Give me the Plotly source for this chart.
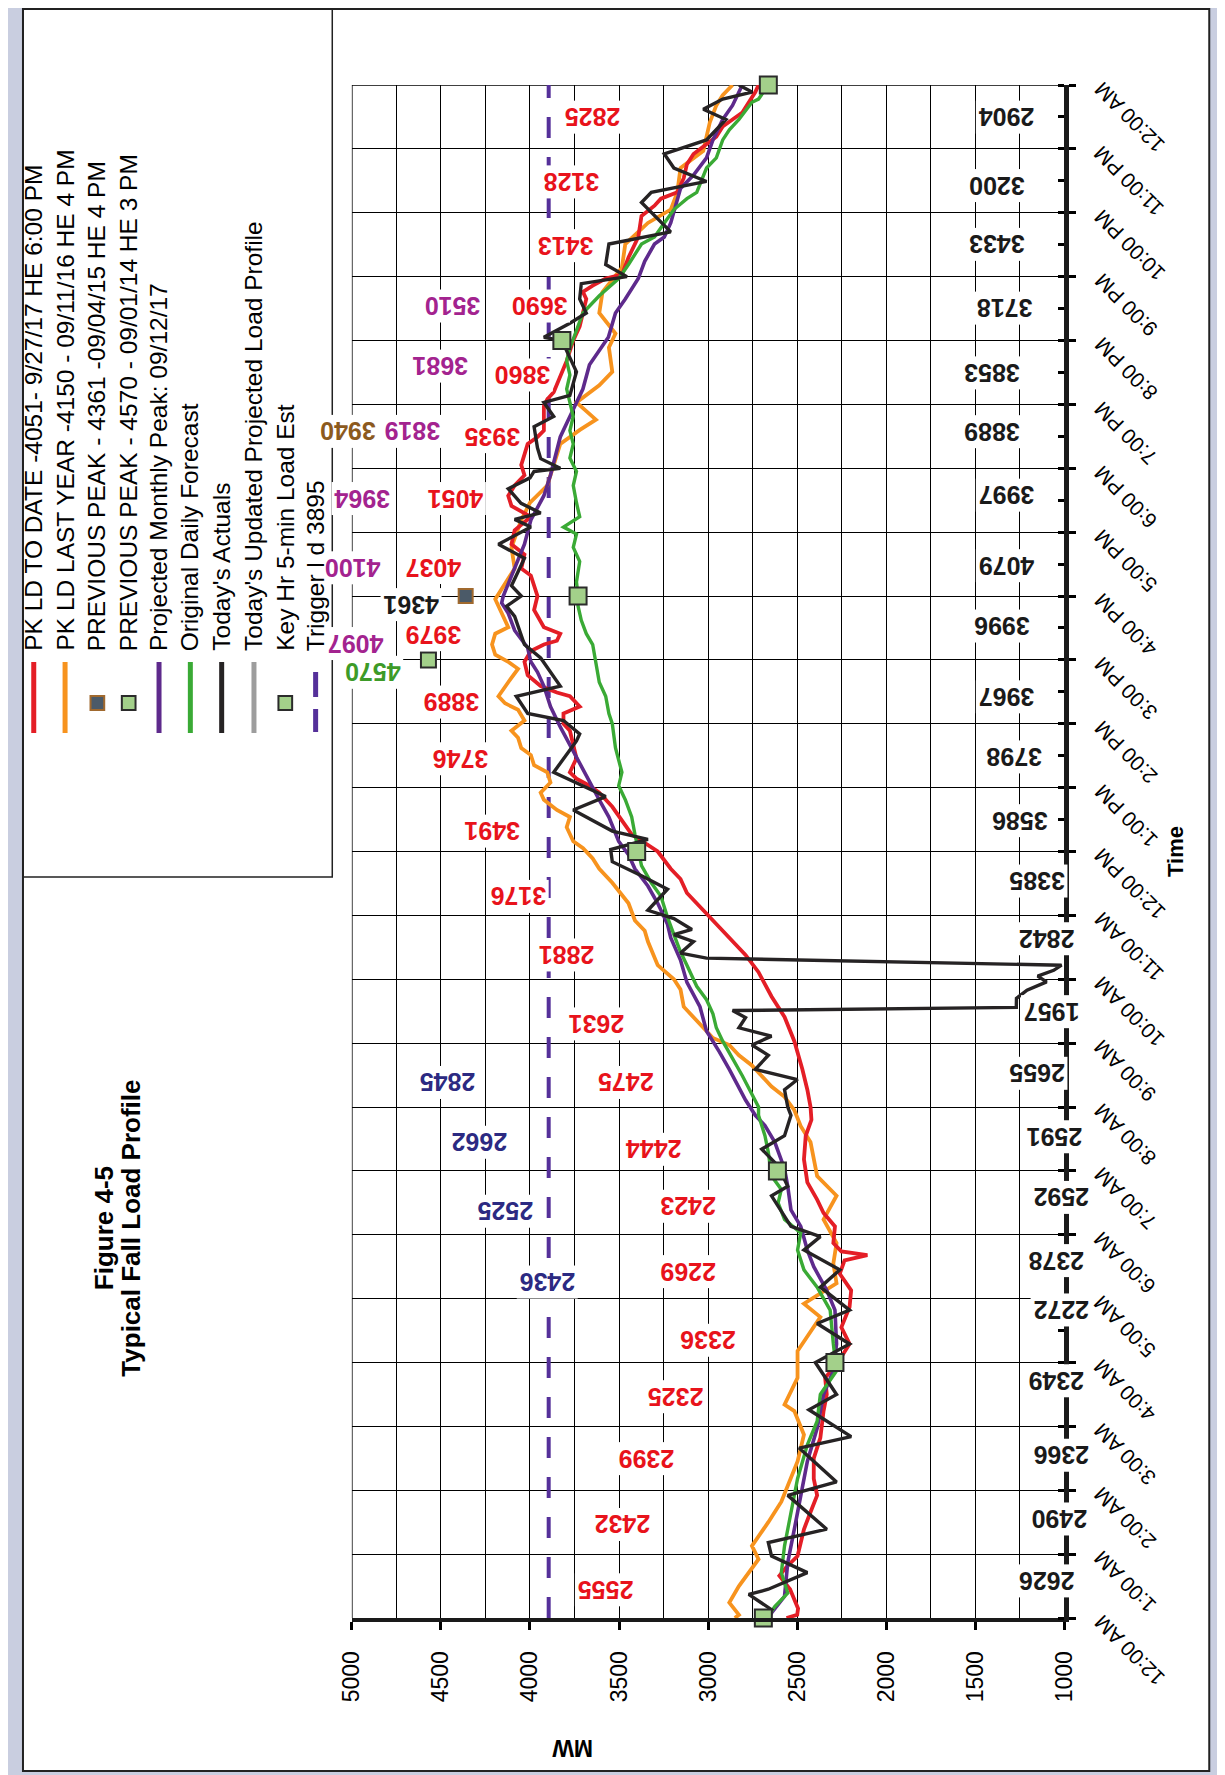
import plotly.graph_objects as go

# ---------------- data ----------------
mw_ticks = [1000, 1500, 2000, 2500, 3000, 3500, 4000, 4500, 5000]
hour_ticks = list(range(25))
time_labels = ["12:00 AM", "1:00 AM", "2:00 AM", "3:00 AM", "4:00 AM", "5:00 AM", "6:00 AM",
               "7:00 AM", "8:00 AM", "9:00 AM", "10:00 AM", "11:00 AM", "12:00 PM", "1:00 PM",
               "2:00 PM", "3:00 PM", "4:00 PM", "5:00 PM", "6:00 PM", "7:00 PM", "8:00 PM",
               "9:00 PM", "10:00 PM", "11:00 PM", "12:00 AM"]

red_h = [0.00, 0.05, 0.15, 0.30, 0.45, 0.66, 0.80, 0.97, 1.20, 1.39, 1.66, 1.92, 2.18, 2.50, 2.82, 3.24, 3.50,
         3.76, 3.97, 4.29, 4.55, 4.87, 5.13, 5.39, 5.60, 5.68, 5.74, 5.87, 6.13, 6.34, 6.55, 6.82, 7.18, 7.55,
         7.80, 8.00, 8.27, 8.59, 9.03, 9.41, 9.73, 10.11, 10.38, 10.59, 10.86, 11.08, 11.35, 11.57, 11.73,
         12.00, 12.27, 12.49, 12.70, 12.92, 13.03, 13.14, 13.24, 13.46, 13.68, 13.89, 14.00, 14.16, 14.27,
         14.43, 14.49, 14.59, 14.76, 14.97, 15.14, 15.24, 15.30, 15.41, 15.51, 15.78, 16.00, 16.32, 16.43,
         16.65, 16.81, 17.03, 17.24, 17.41, 17.57, 17.73, 17.89, 18.05, 18.38, 18.49, 18.59, 18.97, 19.08,
         19.19, 19.68, 20.00, 20.22, 20.43, 20.65, 20.76, 20.86, 20.97, 21.03, 21.30, 21.62, 21.95, 22.11,
         22.22, 22.32, 22.54, 22.76, 22.92, 23.19, 23.35, 23.57, 23.89, 24.00]
red_mw = [2560, 2500, 2495, 2520, 2540, 2600, 2560, 2498, 2480, 2462, 2425, 2388, 2407, 2407, 2370, 2352, 2334,
          2343, 2279, 2206, 2252, 2206, 2197, 2261, 2234, 2106, 2252, 2297, 2288, 2352, 2388, 2443, 2462, 2452,
          2420, 2425, 2443, 2471, 2516, 2571, 2644, 2717, 2790, 2863, 2954, 3027, 3119, 3155, 3210,
          3283, 3429, 3484, 3538, 3611, 3666, 3739, 3776, 3739, 3757, 3776, 3812, 3812, 3721,
          3776, 3849, 3940, 4013, 4031, 3995, 3922, 3849, 3830, 3922, 3977, 3958, 3995, 4049,
          4031, 4104, 4086, 3995, 4104, 4122, 4086, 4031, 4049, 4013, 3958, 3922, 3922, 3903,
          3867, 3794, 3757, 3721, 3703, 3684, 3703, 3648, 3575, 3484, 3447, 3392, 3374, 3301,
          3265, 3173, 3137, 3119, 3082, 2954, 2918, 2808, 2735, 2717]

orange_h = [0.00, 0.05, 0.24, 0.50, 0.92, 1.13, 1.50, 1.82, 2.45, 2.87, 3.24, 3.34, 3.76, 4.18, 4.71, 4.92,
            5.24, 5.55, 5.87, 6.24, 6.61, 6.92, 7.45, 7.70, 7.95, 8.16, 8.32, 8.65, 8.81, 8.97, 9.08, 9.24,
            9.57, 9.84, 10.00, 10.22, 10.59, 10.76, 10.92, 11.19, 11.51, 11.73, 11.89, 12.05, 12.16, 12.38,
            12.54, 12.65, 12.81, 12.92, 13.08, 13.24, 13.35, 13.51, 13.62, 13.78, 13.89, 14.05, 14.22, 14.32,
            14.43, 14.65, 14.86, 14.97, 15.08, 15.24, 15.41, 15.51, 15.73, 15.95, 16.43, 16.76, 17.19, 17.46,
            17.73, 18.38, 18.60, 18.76, 19.03, 19.30, 19.51, 19.89, 20.11, 20.43, 20.76, 21.14, 21.51, 21.84,
            22.05, 22.32, 22.70, 22.97, 23.41, 23.68, 23.84, 24.00]
orange_mw = [2850, 2827, 2881, 2827, 2717, 2754, 2662, 2589, 2498, 2462, 2516, 2571, 2498, 2498, 2370, 2462,
             2279, 2297, 2279, 2352, 2279, 2388, 2425, 2480, 2516, 2571, 2644, 2754, 2827, 2881, 2973, 3027,
             3137, 3155, 3192, 3283, 3338, 3356, 3411, 3447, 3538, 3611, 3648, 3702, 3757, 3794,
             3776, 3849, 3922, 3940, 3885, 3903, 3977, 3995, 4049, 4067, 4104, 4031, 4067, 4140,
             4177, 4122, 4067, 4122, 4195, 4213, 4195, 4122, 4159, 4195, 4086, 4104, 4049, 4000,
             3903, 3830, 3720, 3630, 3739, 3611, 3538, 3557, 3520, 3611, 3593, 3484, 3465, 3338,
             3210, 3173, 3155, 3027, 2991, 2954, 2918, 2863]

purple_h = [0.00, 0.08, 0.34, 0.87, 1.39, 1.92, 2.45, 2.97, 3.50, 3.87, 4.29, 4.82, 5.13, 5.50, 5.76, 6.13,
            6.39, 6.76, 7.03, 7.45, 7.71, 7.87, 8.11, 8.59, 8.86, 9.19, 9.57, 9.95, 10.30, 10.65, 10.86, 11.19,
            11.46, 11.73, 11.95, 12.16, 12.54, 12.81, 13.19, 13.41, 13.68, 13.95, 14.27, 14.59, 14.81, 14.97,
            15.19, 15.46, 15.73, 15.89, 16.00, 16.43, 16.81, 17.19, 17.57, 17.89, 18.27, 18.49, 18.81, 19.24,
            19.62, 19.89, 20.05, 20.43, 20.65, 20.97, 21.24, 21.51, 21.62, 21.84, 22.38, 22.59, 22.86, 23.14,
            23.46, 23.68, 23.89, 24.00]
purple_mw = [2660, 2644, 2571, 2553, 2516, 2480, 2443, 2388, 2352, 2297, 2279, 2288, 2334, 2407, 2443, 2480,
             2535, 2553, 2571, 2626, 2681, 2735, 2790, 2881, 2936, 3009, 3046, 3119, 3155, 3210, 3228, 3283,
             3338, 3411, 3447, 3502, 3557, 3611, 3684, 3721, 3776, 3830, 3885, 3922, 3958, 3995,
             4013, 4086, 4122, 4159, 4150, 4086, 4031, 3995, 3922, 3885, 3849, 3830, 3776, 3703,
             3666, 3600, 3560, 3520, 3465, 3392, 3356, 3301, 3246, 3210, 3155, 3082, 3009, 2973,
             2918, 2863, 2827, 2808]

green_h = [0.03, 0.18, 0.39, 0.71, 1.13, 1.66, 2.18, 2.71, 3.08, 3.50, 3.87, 4.29, 4.82, 5.18, 5.45, 5.76,
           6.03, 6.24, 6.50, 6.71, 6.92, 7.29, 7.55, 7.87, 8.00, 8.49, 8.76, 9.03, 9.24, 9.46, 9.68, 9.89,
           10.22, 10.43, 10.70, 10.97, 11.30, 11.51, 11.78, 12.00, 12.27, 12.54, 12.81, 13.03, 13.24, 13.62,
           14.00, 14.16, 14.43, 14.65, 14.97, 15.24, 15.41, 15.62, 15.84, 16.00, 16.22, 16.54, 16.76, 16.97,
           17.08, 17.24, 17.46, 17.73, 17.95, 18.16, 18.38, 18.59, 18.81, 19.03, 19.24, 19.46, 19.68, 19.89,
           20.00, 20.43, 20.70, 20.97, 21.19, 21.51, 21.62, 21.84, 22.05, 22.22, 22.32, 22.70, 22.86, 23.14,
           23.30, 23.46, 23.73, 23.78, 23.89, 24.00]
green_mw = [2662, 2626, 2553, 2589, 2571, 2535, 2498, 2443, 2388, 2370, 2279, 2297, 2315, 2388, 2462, 2498,
            2480, 2571, 2607, 2589, 2644, 2662, 2681, 2717, 2717, 2808, 2863, 2918, 2954, 2973, 3009, 3064,
            3119, 3155, 3192, 3228, 3265, 3319, 3374, 3392, 3411, 3429, 3465, 3502, 3484, 3520,
            3538, 3557, 3575, 3611, 3630, 3648, 3684, 3712, 3730, 3730, 3739, 3721, 3757, 3739,
            3812, 3721, 3739, 3757, 3739, 3776, 3757, 3776, 3757, 3776, 3794, 3776, 3794, 3776,
            3760, 3703, 3611, 3502, 3447, 3374, 3301, 3246, 3192, 3119, 3064, 3009, 2954, 2918,
            2881, 2827, 2754, 2717, 2690, 2662]

black_h = [0.00, 0.13, 0.37, 0.45, 0.71, 0.97, 1.18, 1.39, 1.92, 2.13, 2.66, 2.84, 3.26, 3.50, 4.00, 4.29,
           4.61, 4.82, 5.18, 5.45, 5.76, 5.97, 6.13, 6.61, 6.76, 7.08, 7.34, 7.55, 7.87, 8.00, 8.27, 8.43,
           8.59, 8.81, 8.97, 9.11, 9.24, 9.40, 9.51, 9.56, 9.70, 9.83, 9.96, 10.05, 10.14, 10.22, 10.33,
           10.41, 10.59, 10.70, 10.78, 10.95, 11.08, 11.41, 11.62, 11.84, 12.03, 12.19, 12.32, 12.65, 12.86,
           13.24, 13.73, 13.84, 14.05, 14.16, 14.43, 14.59, 15.03, 15.24, 15.68, 15.84, 16.00, 16.16, 16.59,
           16.81, 17.08, 17.20, 17.30, 17.45, 17.68, 17.85, 17.95, 18.00, 18.15, 18.32, 18.65, 18.81, 19.03,
           19.14, 19.51, 19.73, 20.00, 20.05, 20.27, 20.43, 20.65, 20.89, 21.00, 21.19, 21.51, 21.70, 21.95,
           22.16, 22.32, 22.49, 22.70, 22.92, 23.14, 23.46, 23.62, 23.78, 23.89, 24.00]
black_mw = [2690, 2644, 2772, 2662, 2443, 2644, 2662, 2334, 2553, 2279, 2489, 2197, 2434, 2279, 2398, 2206,
            2388, 2206, 2370, 2261, 2462, 2370, 2535, 2644, 2553, 2608, 2699, 2571, 2535, 2553, 2571, 2498,
            2735, 2662, 2754, 2644, 2827, 2790, 2863, 1270, 1269, 1210, 1100, 1150, 1060, 1016, 3009,
            3155, 3082, 3192, 3091, 3192, 3338, 3228, 3374, 3538, 3547, 3338, 3538, 3757, 3575,
            3867, 3739, 3721, 3812, 4013, 4077, 3830, 3940, 4031, 4086, 4131, 4049, 4104, 4031,
            4177, 3995, 4086, 3940, 4050, 4122, 4000, 3977, 3830, 3940, 3958, 3977, 3867, 3922,
            3776, 3739, 3776, 3821, 3922, 3776, 3684, 3721, 3712, 3456, 3575, 3557, 3210, 3301,
            3374, 3319, 3009, 3192, 3246, 3009, 2900, 3027, 2918, 2754, 2827]

key_h = [0, 4, 7, 12, 16, 20, 24]
key_mw = [2690, 2288, 2611, 3401, 3730, 3821, 2662]

trigger_mw = 3895
prev_peak_4361 = (4361, 16)
prev_peak_4570 = (4570, 15)

# hourly value labels (HE1..HE24)
actual_hourly = [2626, 2490, 2366, 2349, 2272, 2378, 2592, 2591, 2655, 1957, 2842, 3385,
                 3586, 3798, 3967, 3996, 4079, 3997, 3889, 3853, 3718, 3433, 3200, 2904]
pkld_hourly = [2555, 2432, 2399, 2325, 2336, 2269, 2423, 2444, 2475, 2631, 2881, 3176,
               3491, 3746, 3889, 3979, 4037, 4051, 3935, 3860, 3690, 3413, 3128, 2825]
blue_hourly = [2436, 2525, 2662, 2845]                  # HE6..HE9
magenta_hourly = [4097, 4100, 3964, 3819, 3681, 3510]   # HE16..HE21
brown_hourly = [3940]                                   # HE19

# label placement (MW, hour) - layout only
actual_pos = [(1099, 0.58), (1027, 1.55), (1016, 2.55), (1044, 3.72), (1016, 4.83), (1044, 5.60),
              (1016, 6.58), (1055, 7.54), (1154, 8.53), (1071, 9.49), (1099, 10.64), (1154, 11.53),
              (1253, 12.48), (1280, 13.48), (1324, 14.42), (1351, 15.53), (1324, 16.48), (1324, 17.58),
              (1407, 18.57), (1407, 19.50), (1335, 20.50), (1379, 21.50), (1379, 22.43), (1324, 23.49)]
pkld_pos = [(3575, 0.44), (3480, 1.46), (3348, 2.50), (3182, 3.47), (3004, 4.35), (3113, 5.42),
            (3113, 6.44), (3305, 7.34), (3462, 8.38), (3626, 9.30), (3794, 10.38), (4064, 11.30),
            (4213, 12.32), (4392, 13.45), (4440, 14.34), (4541, 15.40), (4541, 16.45), (4420, 17.53),
            (4210, 18.50), (4044, 19.46), (3945, 20.54), (3802, 21.49), (3769, 22.49), (3648, 23.49)]
blue_pos = [(3901, 5.26), (4137, 6.37), (4283, 7.45), (4462, 8.38)]
magenta_pos = [(4981, 15.26), (4995, 16.44), (4940, 17.53), (4659, 18.58), (4505, 19.60), (4434, 20.54)]

legend_items = ["PK LD TO DATE -4051- 9/27/17 HE 6:00 PM",
                "PK LD LAST YEAR -4150 - 09/11/16 HE 4 PM",
                "PREVIOUS PEAK - 4361 -09/04/15 HE 4 PM",
                "PREVIOUS PEAK - 4570 - 09/01/14 HE 3 PM",
                "Projected Monthly Peak: 09/12/17",
                "Original Daily Forecast",
                "Today's Actuals",
                "Today's Updated Projected Load Profile",
                "Key Hr 5-min Load Est",
                "Trigger l d 3895"]

# ---------------- style / layout ----------------
W, H = 1225, 1775
OFF = 8          # the page body margin shifts the figure by 8 px
L, R, T, B = 345, 1073, 85, 1618
FONT = "Liberation Sans, Arial, sans-serif"
RED, ORANGE, PURPLE, GREEN, BLACK, GRAY = "#e41e26", "#f7931e", "#5e2a8c", "#3aaa35", "#262324", "#9d9d9d"
TRIG = "#55309a"
KEYFILL, KEYLINE = "#a3d08a", "#2b2b2b"


def px(x):
    return (x - OFF) / W


def py(y):
    return 1 - (y - OFF) / H


fig = go.Figure()

fig.add_trace(go.Scatter(x=[trigger_mw, trigger_mw], y=[0, 24], mode="lines",
                         line=dict(color=TRIG, width=4, dash="21px,19px")))
for xs, ys, c, w in [(orange_mw, orange_h, ORANGE, 3.8), (red_mw, red_h, RED, 3.8),
                     (purple_mw, purple_h, PURPLE, 3.6), (green_mw, green_h, GREEN, 3.4),
                     (black_mw, black_h, BLACK, 3.4)]:
    fig.add_trace(go.Scatter(x=xs, y=ys, mode="lines", line=dict(color=c, width=w)))

fig.add_trace(go.Scatter(x=key_mw, y=key_h, mode="markers", cliponaxis=False,
                         marker=dict(symbol="square", size=17, color=KEYFILL,
                                     line=dict(color=KEYLINE, width=2))))
fig.add_trace(go.Scatter(x=[prev_peak_4361[0]], y=[prev_peak_4361[1]], mode="markers",
                         marker=dict(symbol="square", size=14, color="#4b5a68",
                                     line=dict(color="#a0692e", width=2))))
fig.add_trace(go.Scatter(x=[prev_peak_4570[0]], y=[prev_peak_4570[1]], mode="markers",
                         marker=dict(symbol="square", size=15, color=KEYFILL,
                                     line=dict(color=KEYLINE, width=2))))

anns = []


def dlabel(val, mw, h, color, xshift=0):
    anns.append(dict(x=mw, y=h, xref="x", yref="y", text="<b>%d</b>" % val, showarrow=False,
                     textangle=180, xshift=xshift, xanchor="center", yanchor="middle",
                     bgcolor="white", borderpad=2,
                     font=dict(family=FONT, size=25, color=color)))


for v, (m, h) in zip(actual_hourly, actual_pos):
    dlabel(v, m, h, "#1a1a1a")
for v, (m, h) in zip(pkld_hourly, pkld_pos):
    dlabel(v, m, h, "#e8131b")
for v, (m, h) in zip(blue_hourly, blue_pos):
    dlabel(v, m, h, "#2c2a82")
for v, (m, h) in zip(magenta_hourly, magenta_pos):
    dlabel(v, m, h, "#a3238f")
dlabel(brown_hourly[0], 5000, 18.58, "#8c5a1e", xshift=-4)
dlabel(4361, 4665, 15.87, "#1a1a1a")
dlabel(4570, 4885, 14.80, "#3d9b28")

# time axis labels (slanted, upside down as on the rotated page)
for h, t in zip(hour_ticks, time_labels):
    anns.append(dict(x=px(1096), xref="paper", y=h, yref="y", text=t, showarrow=False,
                     textangle=-135, xanchor="left", yanchor="top", yshift=10,
                     font=dict(family=FONT, size=21, color="black")))

# axis titles & figure title
anns.append(dict(x=px(1186), y=py(851), xref="paper", yref="paper", text="<b>Time</b>", showarrow=False,
                 textangle=-90, xanchor="center", yanchor="middle",
                 font=dict(family=FONT, size=22, color="black")))
anns.append(dict(x=px(571), y=py(1748), xref="paper", yref="paper", text="<b>MW</b>", showarrow=False,
                 textangle=180, xanchor="center", yanchor="middle",
                 font=dict(family=FONT, size=23, color="black")))
anns.append(dict(x=px(92), y=py(1228), xref="paper", yref="paper", text="<b>Figure 4-5</b>",
                 showarrow=False, textangle=-90, xanchor="center", yanchor="middle",
                 font=dict(family=FONT, size=26, color="black")))
anns.append(dict(x=px(119), y=py(1228), xref="paper", yref="paper", text="<b>Typical Fall Load Profile</b>",
                 showarrow=False, textangle=-90, xanchor="center", yanchor="middle",
                 font=dict(family=FONT, size=26, color="black")))

# legend (drawn rotated, as on the scanned page)
leg_x = [20, 52, 85, 117, 148, 180, 212, 245, 277, 308]
for x, txt in zip(leg_x, legend_items):
    anns.append(dict(x=px(x), y=py(653), xref="paper", yref="paper", text=txt, showarrow=False,
                     textangle=-90, xanchor="center", yanchor="bottom",
                     font=dict(family=FONT, size=24.5, color="black")))

shapes = []
# page frame and legend box
shapes.append(dict(type="rect", xref="paper", yref="paper", x0=px(9), x1=px(1221), y0=py(9), y1=py(1771),
                   line=dict(color="#222", width=2), fillcolor="white", layer="below"))
shapes.append(dict(type="rect", xref="paper", yref="paper", x0=px(9), x1=px(325), y0=py(9), y1=py(877),
                   line=dict(color="#222", width=1.5), fillcolor="rgba(0,0,0,0)", layer="above"))
# edge grid lines of the plot
shapes.append(dict(type="line", xref="x", yref="y", x0=5000, x1=5000, y0=0, y1=24,
                   line=dict(color="black", width=1.5), layer="below"))
shapes.append(dict(type="line", xref="x", yref="y", x0=5000, x1=1000, y0=24, y1=24,
                   line=dict(color="black", width=1.5), layer="below"))

for x, c in zip([20, 52, 148, 180, 212, 245], [RED, ORANGE, PURPLE, GREEN, BLACK, GRAY]):
    shapes.append(dict(type="line", xref="paper", yref="paper", x0=px(x), x1=px(x), y0=py(662), y1=py(733),
                       line=dict(color=c, width=5), layer="above"))
for x, fc, lc in [(85, "#4b5a68", "#a0692e"), (117, KEYFILL, KEYLINE), (277, KEYFILL, KEYLINE)]:
    shapes.append(dict(type="rect", xref="paper", yref="paper", x0=px(x - 7), x1=px(x + 7),
                       y0=py(696), y1=py(710), fillcolor=fc, line=dict(color=lc, width=2), layer="above"))
for y0, y1 in [(672, 697), (709, 732)]:
    shapes.append(dict(type="line", xref="paper", yref="paper", x0=px(308), x1=px(308), y0=py(y0), y1=py(y1),
                       line=dict(color=TRIG, width=5), layer="above"))

fig.update_layout(
    width=W, height=H, margin=dict(l=0, r=0, t=0, b=0), autosize=False,
    paper_bgcolor="#c9cee0", plot_bgcolor="white", showlegend=False, hovermode=False,
    font=dict(family=FONT, color="black"),
    annotations=anns, shapes=shapes,
    xaxis=dict(domain=[px(L), px(R)], range=[5000, 1000], tickmode="array", tickvals=mw_ticks,
               ticktext=[str(v) for v in mw_ticks], tickangle=-90, ticks="outside", ticklen=8,
               tickwidth=3, tickcolor="black", tickfont=dict(size=23, family=FONT, color="black"),
               ticklabelstandoff=12,
               showgrid=True, gridcolor="black", gridwidth=1.3, zeroline=False,
               minor=dict(tickvals=[1250, 1750, 2250, 2750, 3250, 3750, 4250, 4750], showgrid=True,
                          gridcolor="black", gridwidth=1.3, ticks=""),
               showline=True, linewidth=4, linecolor="#1a1a1a", anchor="y"),
    yaxis=dict(domain=[py(B), py(T)], range=[0, 24], tickmode="linear", tick0=0, dtick=1,
               showticklabels=False, ticks="outside", ticklen=7, tickwidth=3, tickcolor="black",
               side="right", showgrid=True, gridcolor="black", gridwidth=1.3, zeroline=False,
               minor=dict(dtick=0.5, ticks="inside", ticklen=6, tickwidth=3, tickcolor="black",
                          showgrid=False),
               showline=True, linewidth=5, linecolor="#1a1a1a", anchor="x"),
)

fig.write_html("out.html")
